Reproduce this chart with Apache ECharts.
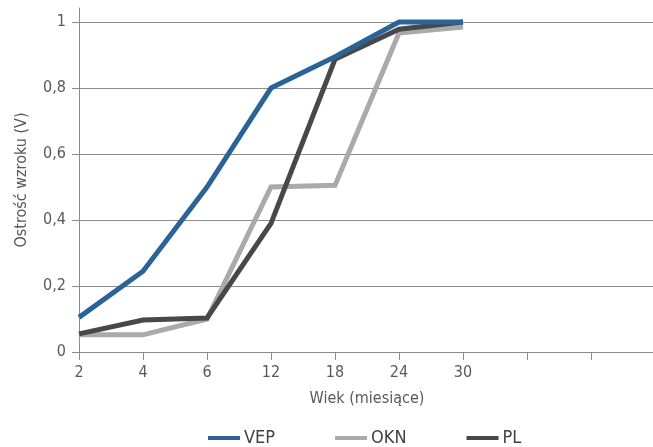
<!DOCTYPE html>
<html>
<head>
<meta charset="utf-8">
<script src="https://cdn.jsdelivr.net/npm/echarts@6/dist/echarts.min.js"></script>
<style>
html,body{margin:0;padding:0;background:#fff;}
#chart{width:653px;height:447px;}
</style>
</head>
<body>
<div id="chart"></div>
<script>
const categories = ['2', '4', '6', '12', '18', '24', '30', '', '', ''];
const yTicks = [0, 0.2, 0.4, 0.6, 0.8, 1];
const seriesNames = ['VEP', 'OKN', 'PL'];
const vep = [0.105, 0.245, 0.5, 0.8, 0.895, 1.0, 1.0];
const okn = [0.052, 0.052, 0.1, 0.5, 0.505, 0.967, 0.985];
const pl = [0.055, 0.097, 0.103, 0.39, 0.887, 0.978, 1.0];

const FONT = '"DejaVu Sans Condensed", "Noto Sans", sans-serif';
const TXT = '#595959';
const GRID = '#8c8c8c';

const chart = echarts.init(document.getElementById('chart'), null, {renderer: 'canvas'});
function mk(name, data, color, z) {
  return {
    name: name, type: 'line', data: data, symbol: 'none', showSymbol: false,
    z: z, itemStyle: {color: color},
    lineStyle: {color: color, width: 5, join: 'miter', cap: 'butt'},
    emphasis: {disabled: true}, animation: false
  };
}
chart.setOption({
  animation: false,
  textStyle: {fontFamily: FONT},
  grid: {left: 79, right: -2, top: 8, bottom: 95, outerBoundsMode: 'none', containLabel: false},
  xAxis: {
    type: 'category', data: categories, boundaryGap: false,
    name: 'Wiek (miesiące)', nameLocation: 'middle', nameGap: 39,
    nameTextStyle: {color: TXT, fontSize: 16, fontFamily: FONT},
    axisLine: {lineStyle: {color: GRID, width: 1}},
    axisTick: {show: true, length: 8, interval: 0, lineStyle: {color: GRID}},
    axisLabel: {color: TXT, fontSize: 16, fontFamily: FONT, margin: 13, interval: 0},
    splitLine: {show: false}
  },
  yAxis: {
    type: 'value', min: 0, max: 343 / 329,
    name: 'Ostrość wzroku (V)', nameLocation: 'middle', nameGap: 49, nameRotate: 90,
    nameTextStyle: {color: TXT, fontSize: 16, fontFamily: FONT},
    axisLine: {show: true, lineStyle: {color: GRID, width: 1}},
    axisTick: {show: true, length: 7, inside: false, lineStyle: {color: GRID}, customValues: yTicks},
    axisLabel: {color: TXT, fontSize: 16, fontFamily: FONT, margin: 13, customValues: yTicks,
      formatter: v => String(Math.round(v * 10) / 10).replace('.', ',')},
    splitLine: {show: true, lineStyle: {color: GRID, width: 1.2}}
  },
  legend: {
    data: seriesNames, top: 424, left: 203,
    icon: 'rect', itemWidth: 32, itemHeight: 4, itemGap: 60,
    textStyle: {color: '#404040', fontSize: 18, fontFamily: FONT, padding: [0, 0, 0, -1]},
    selectedMode: false
  },
  series: [
    mk('VEP', vep, '#2a6496', 4),
    mk('OKN', okn, '#aaaaad', 2),
    mk('PL', pl, '#48484a', 3)
  ]
});
</script>
</body>
</html>
